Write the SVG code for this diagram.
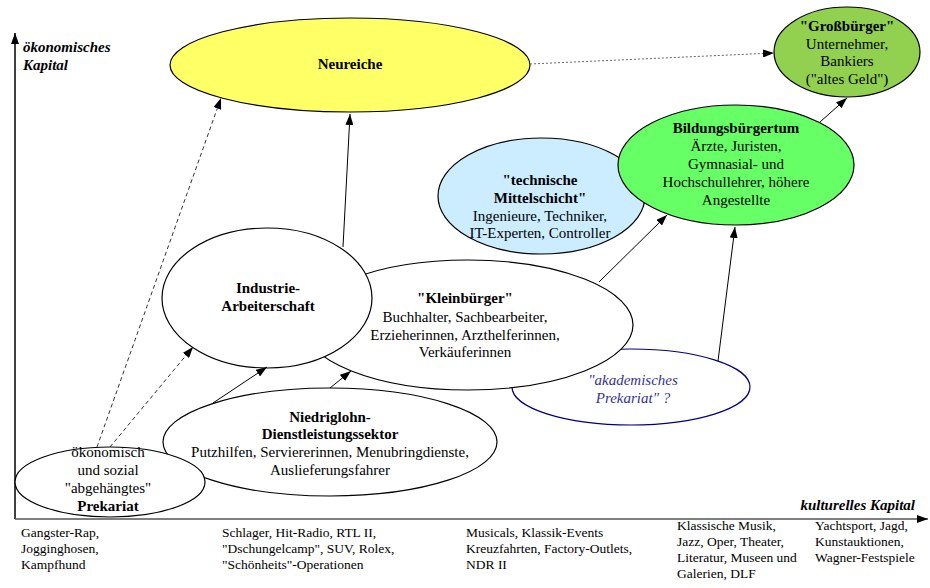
<svg xmlns="http://www.w3.org/2000/svg" width="930" height="588" viewBox="0 0 930 588">
  <style>
    text { font-family: "Liberation Serif", "Times New Roman", serif; font-size: 15px; fill: #000; }
    .c { text-anchor: middle; }
    .b { font-weight: bold; }
    .axis-label { font-weight: bold; font-style: italic; font-size: 15px; }
    .small { font-size: 13.5px; }
    .node { stroke: #000; stroke-width: 1.2; }
    .conn { fill: none; stroke: #000; stroke-width: 1; }
    .dash { stroke: #333; stroke-dasharray: 4 3; }
    .dot { stroke: #666; stroke-dasharray: 2 2; }
  </style>
  <defs>
    <marker id="arrow" viewBox="0 0 11 8" refX="11" refY="4" markerWidth="11" markerHeight="8" markerUnits="userSpaceOnUse" orient="auto">
      <path d="M0,0 L11,4 L0,8 z" fill="#000"/>
    </marker>
  </defs>

  <rect width="930" height="588" fill="#fff"/>

  <!-- axes -->
  <g id="axes">
    <line x1="15" y1="519" x2="15" y2="33" stroke="#000" stroke-width="1.5" marker-end="url(#arrow)"/>
    <line x1="15" y1="519" x2="928" y2="519" stroke="#555" stroke-width="1.5" marker-end="url(#arrow)"/>
    <text class="axis-label" x="23" y="52">ökonomisches</text>
    <text class="axis-label" x="23" y="70">Kapital</text>
    <text class="axis-label" x="915" y="510" text-anchor="end">kulturelles Kapital</text>
  </g>

  <!-- upper nodes -->
  <g id="neureiche">
    <ellipse class="node" cx="350" cy="65" rx="180" ry="47" fill="#FFFF66"/>
    <text class="c b" x="350" y="69">Neureiche</text>
  </g>
  <g id="grossbuerger">
    <ellipse class="node" cx="847" cy="52" rx="73" ry="45" fill="#92D050"/>
    <text class="c" x="847" y="31"><tspan class="b">"Großbürger"</tspan><tspan x="847" dy="17.5">Unternehmer,</tspan><tspan x="847" dy="17.5">Bankiers</tspan><tspan x="847" dy="17.5">("altes Geld")</tspan></text>
  </g>
  <g id="mittelschicht">
    <ellipse class="node" cx="541.5" cy="196" rx="103.5" ry="58" fill="#CCECFF"/>
    <text class="c" x="540" y="185"><tspan class="b">"technische</tspan><tspan class="b" x="540" dy="18">Mittelschicht"</tspan><tspan x="540" dy="18">Ingenieure, Techniker,</tspan><tspan x="540" dy="17">IT-Experten, Controller</tspan></text>
  </g>
  <g id="bildungsbuergertum">
    <ellipse class="node" cx="736" cy="165" rx="118" ry="60" fill="#66FF66"/>
    <text class="c" x="736" y="133"><tspan class="b">Bildungsbürgertum</tspan><tspan x="736" dy="18.2">Ärzte, Juristen,</tspan><tspan x="736" dy="18">Gymnasial- und</tspan><tspan x="736" dy="17.5">Hochschullehrer, höhere</tspan><tspan x="736" dy="18">Angestellte</tspan></text>
  </g>

  <!-- middle and lower nodes -->
  <g id="akademisches-prekariat">
    <ellipse cx="631" cy="387" rx="119" ry="38" fill="#fff" stroke="#000080" stroke-width="1.2"/>
    <text class="c" x="633" y="385" fill="#333399" style="font-style: italic; fill: #333399;"><tspan>"akademisches</tspan><tspan x="633" dy="18">Prekariat" ?</tspan></text>
  </g>
  <g id="kleinbuerger">
    <ellipse class="node" cx="468" cy="325" rx="165" ry="65" fill="#fff"/>
    <text class="c" x="465" y="303"><tspan class="b">"Kleinbürger"</tspan><tspan x="465" dy="18.5">Buchhalter, Sachbearbeiter,</tspan><tspan x="465" dy="18">Erzieherinnen, Arzthelferinnen,</tspan><tspan x="465" dy="17.5">Verkäuferinnen</tspan></text>
  </g>
  <g id="industrie-arbeiterschaft">
    <ellipse class="node" cx="267" cy="298" rx="105" ry="70" fill="#fff"/>
    <text class="c b" x="268" y="293"><tspan>Industrie-</tspan><tspan x="268" dy="17.5">Arbeiterschaft</tspan></text>
  </g>
  <g id="niedriglohn">
    <ellipse class="node" cx="330" cy="442" rx="167" ry="54" fill="#fff"/>
    <text class="c" x="330" y="422"><tspan class="b">Niedriglohn-</tspan><tspan class="b" x="330" dy="16.5">Dienstleistungssektor</tspan><tspan x="330" dy="18">Putzhilfen, Serviererinnen, Menubringdienste,</tspan><tspan x="330" dy="18">Auslieferungsfahrer</tspan></text>
  </g>
  <g id="prekariat">
    <ellipse class="node" cx="110" cy="482" rx="95" ry="35" fill="#fff"/>
    <text class="c" x="108" y="457"><tspan>ökonomisch</tspan><tspan x="108" dy="18">und sozial</tspan><tspan x="108" dy="18">"abgehängtes"</tspan><tspan class="b" x="108" dy="18">Prekariat</tspan></text>
  </g>

  <!-- connectors -->
  <g id="connectors">
    <line class="conn dash" x1="97" y1="447" x2="221" y2="98" marker-end="url(#arrow)"/>
    <line class="conn dash" x1="110" y1="447" x2="193" y2="347" marker-end="url(#arrow)"/>
    <line class="conn" x1="213" y1="403" x2="267" y2="367" marker-end="url(#arrow)"/>
    <line class="conn" x1="330" y1="388" x2="351" y2="371" marker-end="url(#arrow)"/>
    <line class="conn" x1="343" y1="247" x2="350" y2="114" marker-end="url(#arrow)"/>
    <line class="conn" x1="599" y1="282" x2="667" y2="215" marker-end="url(#arrow)"/>
    <line class="conn" x1="718" y1="361" x2="735" y2="227" marker-end="url(#arrow)"/>
    <line class="conn" x1="820" y1="122" x2="847" y2="98" stroke="#444" stroke-width="0.8" marker-end="url(#arrow)"/>
    <line class="conn dot" x1="530" y1="64" x2="774" y2="53" marker-end="url(#arrow)"/>
  </g>

  <!-- cultural markers along the horizontal axis -->
  <g id="culture-labels" class="small">
    <text class="small" x="21" y="537"><tspan>Gangster-Rap,</tspan><tspan x="21" dy="16">Jogginghosen,</tspan><tspan x="21" dy="16">Kampfhund</tspan></text>
    <text class="small" x="222" y="537"><tspan>Schlager, Hit-Radio, RTL II,</tspan><tspan x="222" dy="16">"Dschungelcamp", SUV, Rolex,</tspan><tspan x="222" dy="16">"Schönheits"-Operationen</tspan></text>
    <text class="small" x="466" y="537"><tspan>Musicals, Klassik-Events</tspan><tspan x="466" dy="16">Kreuzfahrten, Factory-Outlets,</tspan><tspan x="466" dy="16">NDR II</tspan></text>
    <text class="small" x="677" y="530"><tspan>Klassische Musik,</tspan><tspan x="677" dy="16">Jazz, Oper, Theater,</tspan><tspan x="677" dy="16">Literatur, Museen und</tspan><tspan x="677" dy="16">Galerien, DLF</tspan></text>
    <text class="small" x="815" y="530"><tspan>Yachtsport, Jagd,</tspan><tspan x="815" dy="16">Kunstauktionen,</tspan><tspan x="815" dy="16">Wagner-Festspiele</tspan></text>
  </g>
</svg>
